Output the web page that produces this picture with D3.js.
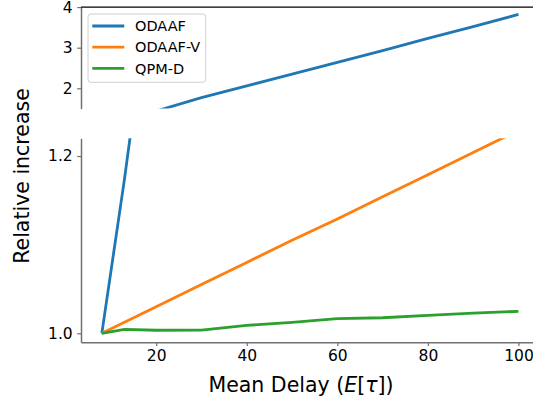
<!DOCTYPE html>
<html>
<head>
<meta charset="utf-8">
<script src="https://cdn.jsdelivr.net/npm/d3@7"></script>
<style>
  body { margin: 0; background: #fff; }
  svg { font-family: "DejaVu Sans", sans-serif; }
</style>
</head>
<body>
<div class="graph"></div>
<script>
// data //
let delays = [8, 13, 20, 30, 40, 50, 60, 70, 80, 90, 100];
let odaaf = [1.0, 1.174, 1.44, 1.77, 2.06, 2.35, 2.64, 2.93, 3.23, 3.52, 3.82];
let odaafV = [1.0, 1.0125, 1.030, 1.055, 1.080, 1.105, 1.129, 1.154, 1.179, 1.204, 1.229];
let qpmD = [1.0, 1.0045, 1.0035, 1.0037, 1.009, 1.0124, 1.0165, 1.0176, 1.0203, 1.0229, 1.0248];
let seriesNames = ['ODAAF', 'ODAAF-V', 'QPM-D'];
let colors = ['#1f77b4', '#ff7f0e', '#2ca02c'];
let topTicks = [2, 3, 4];
let bottomTicks = [1.0, 1.2];
let xTicks = [20, 40, 60, 80, 100];

//various constants//
let w = 533;
let h = 402;
let left = 81;
let spineColor = '#707070';
let tickFont = '15.5px';

let series = [odaaf, odaafV, qpmD];

let svg = d3.select('.graph')
    .append('svg')
    .attr('width', w)
    .attr('height', h);

let xScale = d3.scaleLinear()
    .domain([3.4, 104.6])
    .range([left, 539.3]);

let yTop = d3.scaleLinear()
    .domain([1.5, 4])
    .range([108.6, 7.1]);

let yBottom = d3.scaleLinear()
    .domain([0.99, 1.22])
    .range([342.2, 138.3]);

let panels = [
    {y: yTop, ticks: topTicks, fmt: d3.format('d'), id: 'top'},
    {y: yBottom, ticks: bottomTicks, fmt: d3.format('.1f'), id: 'bottom'}
];

panels.forEach(p => {
    let r = p.y.range();
    svg.append('clipPath')
        .attr('id', 'clip-' + p.id)
        .append('rect')
        .attr('x', left)
        .attr('y', r[1])
        .attr('width', w - left)
        .attr('height', r[0] - r[1]);

    let line = d3.line()
        .x((d, i) => xScale(delays[i]))
        .y(d => p.y(d));

    let g = svg.append('g').attr('clip-path', 'url(#clip-' + p.id + ')');
    series.forEach((s, k) => {
        g.append('path')
            .datum(s)
            .attr('d', line)
            .attr('fill', 'none')
            .attr('stroke', colors[k])
            .attr('stroke-width', 2.8)
            .attr('stroke-linejoin', 'round');
    });

    let yAxis = d3.axisLeft(p.y)
        .tickValues(p.ticks)
        .tickFormat(p.fmt)
        .tickSize(3.8)
        .tickPadding(4.5)
        .tickSizeOuter(0);

    let ga = svg.append('g')
        .attr('transform', 'translate(' + left + ',0)')
        .call(yAxis);
    ga.select('.domain').attr('stroke', spineColor).attr('stroke-width', 1.5);
    ga.selectAll('.tick line').attr('stroke', spineColor).attr('stroke-width', 1.2);
    ga.selectAll('.tick text')
        .attr('fill', '#000')
        .style('font-size', tickFont)
        .style('font-family', '"DejaVu Sans", sans-serif');
});

// top spine of upper panel
svg.append('line')
    .attr('x1', left)
    .attr('x2', w)
    .attr('y1', yTop.range()[1])
    .attr('y2', yTop.range()[1])
    .attr('stroke', '#000')
    .attr('stroke-width', 1.4);

// x axis
let xAxis = d3.axisBottom(xScale)
    .tickValues(xTicks)
    .tickSize(3.8)
    .tickPadding(4.5)
    .tickSizeOuter(0);

let gx = svg.append('g')
    .attr('transform', 'translate(0,' + yBottom.range()[0] + ')')
    .call(xAxis);
gx.select('.domain').attr('stroke', spineColor).attr('stroke-width', 1.5);
gx.selectAll('.tick line').attr('stroke', spineColor).attr('stroke-width', 1.2);
gx.selectAll('.tick text')
    .attr('fill', '#000')
    .style('font-size', tickFont)
    .style('font-family', '"DejaVu Sans", sans-serif');

// axis labels
let xl = svg.append('text')
    .attr('x', 301)
    .attr('y', 392)
    .attr('text-anchor', 'middle')
    .style('font-size', '20.5px');
xl.append('tspan').text('Mean Delay (');
xl.append('tspan').style('font-style', 'italic').text('E');
xl.append('tspan').text('[');
xl.append('tspan').style('font-style', 'italic').text('τ');
xl.append('tspan').text('])');

svg.append('text')
    .attr('transform', 'translate(29,176) rotate(-90)')
    .attr('text-anchor', 'middle')
    .style('font-size', '20.5px')
    .text('Relative increase');

// legend
let legend = svg.append('g');
legend.append('rect')
    .attr('x', 88)
    .attr('y', 14)
    .attr('width', 117.7)
    .attr('height', 68.3)
    .attr('rx', 3)
    .attr('fill', '#fff')
    .attr('fill-opacity', 0.85)
    .attr('stroke', '#d0d0d0')
    .attr('stroke-width', 1);

seriesNames.forEach((name, i) => {
    let yy = 26 + i * 21.2;
    legend.append('line')
        .attr('x1', 92.3)
        .attr('x2', 124.3)
        .attr('y1', yy)
        .attr('y2', yy)
        .attr('stroke', colors[i])
        .attr('stroke-width', 2.8);
    legend.append('text')
        .attr('x', 135)
        .attr('y', yy + 5.2)
        .style('font-size', '14.5px')
        .text(name);
});
</script>
</body>
</html>
